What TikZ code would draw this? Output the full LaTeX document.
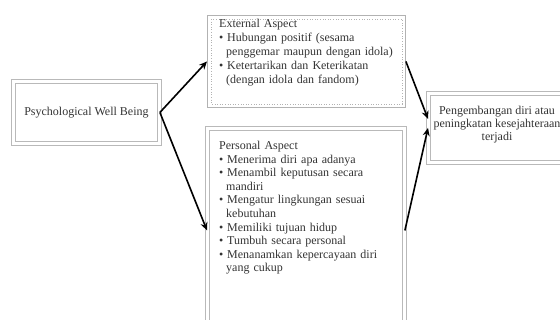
\documentclass[tikz,border=0pt]{standalone}
\usepackage{fontspec}
\setmainfont{Liberation Serif}
\usepackage{tikz}
\usetikzlibrary{arrows.meta}
\newcommand{\bul}{\par\noindent\makebox[8pt][l]{\textbullet}}
\newcommand{\cont}{\newline\hspace*{7pt}}

\begin{document}
\begin{tikzpicture}[x=1pt,y=1pt,yscale=-1,
  dblbox/.style={draw=gray!55, line width=0.9pt, double, double distance=2.4pt, inner sep=0pt, anchor=north west},
  plainbox/.style={draw=gray!60, line width=0.9pt, inner sep=0pt, anchor=north west},
  listtext/.style={text=black!80, inner sep=0pt, anchor=north west, align=left, font=\fontsize{12}{14}\selectfont},
  flow/.style={line width=1.6pt, -{Stealth[length=8pt,width=7pt]}}]
\useasboundingbox (0,0) rectangle (560,320);

%Shape: Rectangle [id:well]
\node [dblbox, minimum width=146, minimum height=62, text=black!80, font=\fontsize{12}{14}\selectfont] (well) at (13,81) {Psychological Well Being};

%Shape: Rectangle [id:ext]
\node [plainbox, minimum width=198, minimum height=92] (ext) at (207,15) {};
\draw [gray!60, dotted, line width=0.6pt] ([xshift=4pt,yshift=4pt]ext.north west) rectangle ([xshift=-4pt,yshift=-4pt]ext.south east);

%Shape: Rectangle [id:pers]
\node [dblbox, double distance=2.8pt, minimum width=197, minimum height=204] (pers) at (207,128) {};

%Shape: Rectangle [id:goal]
\node [dblbox, minimum width=138, minimum height=69] (goal) at (428,93) {};

% Text Node
\node [listtext, text width=184] (exttxt) at (219,19) {External Aspect
\bul Hubungan positif (sesama\cont penggemar maupun dengan idola)
\bul Ketertarikan dan Keterikatan\cont (dengan idola dan fandom)};
% Text Node
\node [listtext, text width=184, font=\fontsize{12}{13.6}\selectfont] (perstxt) at (219,141) {Personal Aspect
\bul Menerima diri apa adanya
\bul Menambil keputusan secara\cont mandiri
\bul Mengatur lingkungan sesuai\cont kebutuhan
\bul Memiliki tujuan hidup
\bul Tumbuh secara personal
\bul Menanamkan kepercayaan diri\cont yang cukup};
% Text Node
\node [text=black!80, inner sep=0pt, align=center, font=\fontsize{12}{13}\selectfont] (goaltxt) at (497,125) {Pengembangan diri atau\\peningkatan kesejahteraan\\terjadi};

%Straight Lines
\draw [flow] (well.east) -- (ext.west);
\draw [flow] (well.east) -- (pers.west);
\draw [flow] (ext.east) -- ([yshift=-9pt]goal.west);
\draw [flow] (pers.east) -- (goal.west);

\end{tikzpicture}
\end{document}
